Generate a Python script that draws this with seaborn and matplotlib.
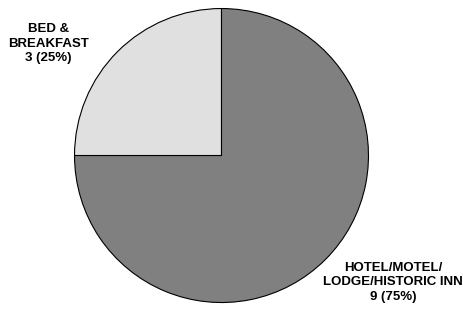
import matplotlib
matplotlib.use("Agg")
import matplotlib.pyplot as plt
import seaborn as sns

categories = ["BED &\nBREAKFAST", "HOTEL/MOTEL/\nLODGE/HISTORIC INN"]
counts = [3, 9]
colors = ["#e0e0e0", "#808080"]

sns.set_theme(style="white")
plt.rcParams["font.family"] = ["Liberation Sans", "DejaVu Sans"]

fig = plt.figure(figsize=(4.63, 3.09), dpi=100)
ax = fig.add_axes([0, 0, 1, 1])
ax.pie(counts, colors=colors, startangle=90, counterclock=True,
       wedgeprops=dict(edgecolor="black", linewidth=0.8), radius=1.0)
ax.set_xlim(-1.507, 1.643)
ax.set_ylim(-1.044, 1.058)
ax.set_aspect("auto")
ax.axis("off")

total = sum(counts)
label_pos = [(-1.18, 0.76), (1.167, -0.861)]
for cat, n, (x, y) in zip(categories, counts, label_pos):
    ax.text(x, y, f"{cat}\n{n} ({n / total:.0%})", ha="center", va="center",
            fontsize=9.5, fontweight="bold", color="black", linespacing=1.28)

fig.savefig("out.png", dpi=100)
